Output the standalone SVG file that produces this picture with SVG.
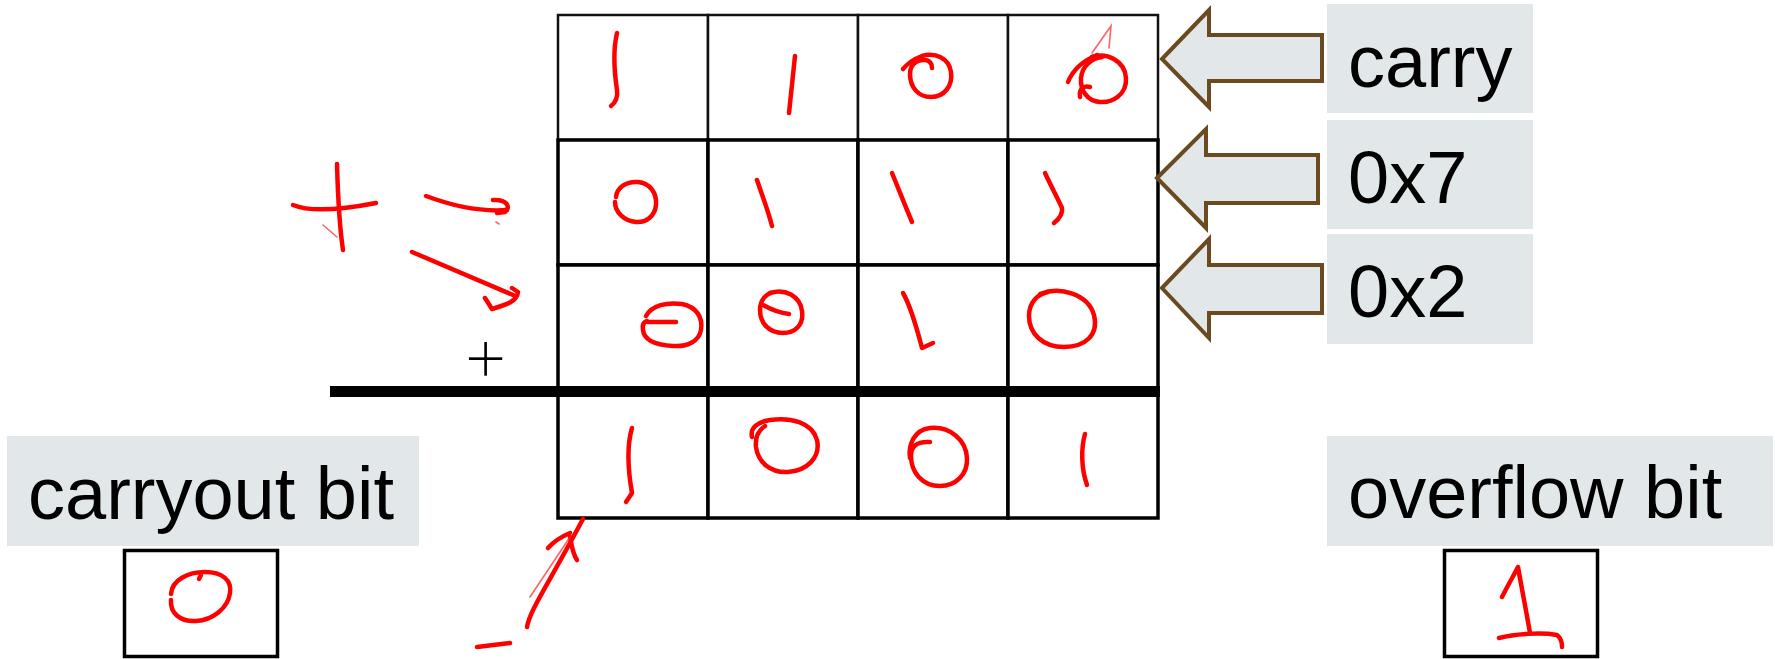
<svg xmlns="http://www.w3.org/2000/svg" width="1775" height="659" viewBox="0 0 1775 659">
<style>
.c1{fill:#fff;stroke:#111;stroke-width:2.5}
.c{fill:#fff;stroke:#000;stroke-width:3.5}
.ink{fill:none;stroke:#ff0000;stroke-width:4.5;stroke-linecap:round;stroke-linejoin:round}
.thin{fill:none;stroke:#ff3030;stroke-width:1.6;stroke-linecap:round;opacity:0.75}
.lab{fill:#e2e8ea}
.t{font-family:"Liberation Sans",Arial,sans-serif;font-size:74px;fill:#000}
.blk{fill:#e2e8ea;stroke:#6b4a1f;stroke-width:4;stroke-linejoin:miter}
.vbox{fill:#fff;stroke:#000;stroke-width:3.5}
</style>
<rect width="1775" height="659" fill="#fff"/>

<g id="grid">
  <g id="cell-r1c1"><rect class="c1" x="558" y="15" width="150" height="125"/>
    <path class="ink" d="M617,33 C613,50 614,70 617,90 C618,98 615,103 611,106"/></g>
  <g id="cell-r1c2"><rect class="c1" x="708" y="15" width="150" height="125"/>
    <path class="ink" d="M795,56 L789,113"/></g>
  <g id="cell-r1c3"><rect class="c1" x="858" y="15" width="150" height="125"/>
    <path class="ink" d="M903,69 C908,63 914,59 922,56 C935,52 949,58 951,72 C953,86 944,97 931,97 C918,97 910,87 910,74 C910,65 916,60 924,60 C930,60 932,64 932,68"/></g>
  <g id="cell-r1c4"><rect class="c1" x="1008" y="15" width="150" height="125"/>
    <path class="ink" d="M1092,57 C1107,52 1125,61 1126,78 C1127,95 1112,103 1100,102 C1087,101 1080,90 1081,78 C1082,66 1092,58 1102,57"/>
    <path class="ink" d="M1068,82 C1072,72 1080,62 1097,55"/>
    <path class="ink" stroke-width="2.5" d="M1080,97 C1079,90 1082,85 1090,87"/>
    <path class="thin" d="M1092,53 L1111,26 L1109,48"/></g>

  <g id="cell-r2c1"><rect class="c" x="558" y="140" width="150" height="125"/>
    <path class="ink" d="M616,197 C617,187 627,181 638,182 C650,183 657,193 656,205 C655,216 646,223 636,222 C624,221 615,212 615,202"/></g>
  <g id="cell-r2c2"><rect class="c" x="708" y="140" width="150" height="125"/>
    <path class="ink" d="M757,180 C762,195 768,210 772,226"/></g>
  <g id="cell-r2c3"><rect class="c" x="858" y="140" width="150" height="125"/>
    <path class="ink" d="M892,173 C899,190 906,208 912,222"/></g>
  <g id="cell-r2c4"><rect class="c" x="1008" y="140" width="150" height="125"/>
    <path class="ink" d="M1045,173 C1051,186 1058,199 1062,208 C1063,214 1059,219 1054,223"/></g>

  <g id="cell-r3c1"><rect class="c" x="558" y="265" width="150" height="126"/>
    <path class="ink" d="M646,316 C652,305 667,302 682,304 C697,307 703,318 701,330 C699,341 688,347 673,346 C656,345 644,340 643,330 C642,325 644,322 647,321"/>
    <path class="ink" stroke-width="2.5" d="M648,322 L676,322"/></g>
  <g id="cell-r3c2"><rect class="c" x="708" y="265" width="150" height="126"/>
    <path class="ink" d="M770,293 C785,288 800,296 802,311 C804,325 795,333 783,333 C769,333 760,323 760,310 C760,300 766,293 775,292"/>
    <path class="ink" stroke-width="2.5" d="M763,305 C772,310 780,313 789,314"/></g>
  <g id="cell-r3c3"><rect class="c" x="858" y="265" width="150" height="126"/>
    <path class="ink" d="M903,293 C910,305 916,325 922,348 L933,343"/></g>
  <g id="cell-r3c4"><rect class="c" x="1008" y="265" width="150" height="126"/>
    <path class="ink" d="M1040,294 C1060,286 1088,294 1094,315 C1099,335 1085,347 1064,347 C1043,347 1029,334 1029,316 C1029,302 1038,294 1048,292"/></g>

  <g id="cell-r4c1"><rect class="c" x="558" y="391" width="150" height="127"/>
    <path class="ink" d="M632,428 C627,445 628,470 632,493 L626,502"/></g>
  <g id="cell-r4c2"><rect class="c" x="708" y="391" width="150" height="127"/>
    <path class="ink" d="M752,437 C750,428 757,422 770,420 C790,417 812,422 817,440 C821,458 806,471 788,472 C770,473 758,462 756,447 C755,437 759,430 765,426"/></g>
  <g id="cell-r4c3"><rect class="c" x="858" y="391" width="150" height="127"/>
    <path class="ink" d="M910,458 C908,445 914,430 930,428 C950,426 966,440 967,458 C968,475 955,486 940,486 C922,486 911,472 911,456 C911,447 916,441 930,442"/></g>
  <g id="cell-r4c4"><rect class="c" x="1008" y="391" width="150" height="127"/>
    <path class="ink" stroke-width="6" d="M1085,434 C1081,448 1081,468 1087,485"/></g>

  <rect id="sum-bar" x="330" y="386" width="830" height="11" fill="#000"/>
  <text class="t" x="464" y="384" font-size="88" stroke="#fff" stroke-width="2.6">+</text>
</g>

<g id="labels">
  <g id="label-carry"><rect class="lab" x="1327" y="4" width="206" height="109"/><text class="t" x="1348" y="87">carry</text></g>
  <g id="label-0x7"><rect class="lab" x="1327" y="120" width="206" height="109"/><text class="t" x="1348" y="203">0x7</text></g>
  <g id="label-0x2"><rect class="lab" x="1327" y="234" width="206" height="110"/><text class="t" x="1348" y="317">0x2</text></g>
  <g id="label-carryout"><rect class="lab" x="7" y="436" width="412" height="110"/><text class="t" x="28" y="519">carryout bit</text></g>
  <g id="label-overflow"><rect class="lab" x="1327" y="436" width="446" height="110"/><text class="t" x="1348" y="518">overflow bit</text></g>
</g>

<g id="value-carryout"><rect class="vbox" x="124.5" y="550.5" width="153" height="106"/>
  <path class="ink" d="M171,594 C172,580 188,572 205,572 C222,572 232,580 230,593 C228,608 213,620 196,621 C180,622 170,613 171,600 M199,579 L201,575"/></g>
<g id="value-overflow"><rect class="vbox" x="1444.5" y="550.5" width="153" height="106"/>
  <path class="ink" d="M1502,597 C1508,585 1514,575 1518,567 C1522,590 1527,615 1530,633"/>
  <path class="ink" d="M1499,638 C1515,634 1540,632 1557,635 C1561,638 1562,643 1562,647"/></g>

<g id="connectors">
  <polygon class="blk" points="1162,59 1209,10 1209,35 1322,35 1322,81 1209,81 1209,107"/>
  <polygon class="blk" points="1157,178 1206,129 1206,155 1318,155 1318,203 1206,203 1206,228"/>
  <polygon class="blk" points="1162,288 1209,239 1209,265 1322,265 1322,313 1209,313 1209,338"/>
  <g id="ink-notes">
    <path class="ink" d="M293,205 C310,212 340,210 376,203"/>
    <path class="ink" d="M337,164 C338,200 340,230 343,250"/>
    <path class="thin" d="M323,225 L337,237"/>
    <path class="ink" d="M426,196 C450,205 480,212 507,210"/>
    <path class="ink" d="M493,200 C505,199 512,206 505,212 L497,213"/>
    <path class="thin" d="M496,222 L499,224"/>
    <path class="ink" d="M412,252 L513,295"/>
    <path class="ink" d="M485,298 L492,309 C505,305 517,302 518,292 L512,288"/>
    <path class="ink" d="M527,627 C530,610 545,590 583,519"/>
    <path class="ink" d="M548,548 C555,540 563,536 570,533 M570,537 C572,547 573,555 577,560"/>
    <path class="thin" d="M530,597 L570,537"/>
    <path class="ink" stroke-width="5" d="M477,647 L510,643"/>
  </g>
</g>
</svg>
